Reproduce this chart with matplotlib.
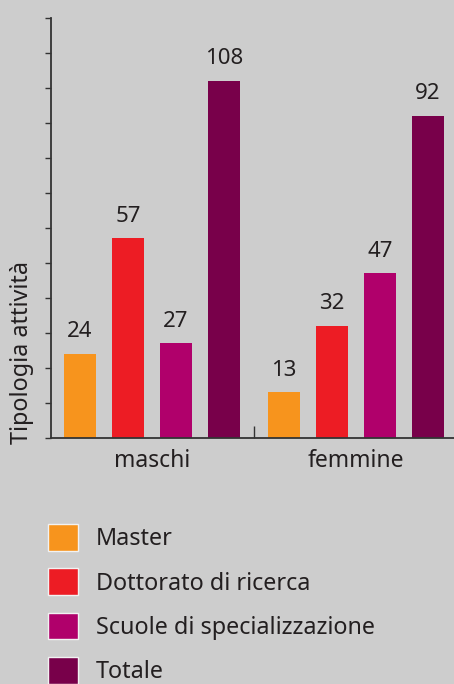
import matplotlib.pyplot as plt
from matplotlib.patches import Patch

# data
groups = ["maschi", "femmine"]
series = ["Master", "Dottorato di ricerca", "Scuole di specializzazione", "Totale"]
maschi = [24, 57, 27, 102]
femmine = [13, 32, 47, 92]
maschi_lbl = ["24", "57", "27", "108"]
femmine_lbl = ["13", "32", "47", "92"]
colors = ["#f7941d", "#ed1c24", "#b0006b", "#78004a"]

bg = "#cdcdcd"
txt = "#231f20"
plt.rcParams["font.family"] = ["Noto Sans", "DejaVu Sans"]

fig = plt.figure(figsize=(4.54, 6.84), dpi=100, facecolor=bg)
ax = fig.add_axes([51/454, 246/684, 403/454, 420.3/684])
ax.set_facecolor(bg)

gap = 4.25
width = 0.667
for g, (vals, lbls) in enumerate([(maschi, maschi_lbl), (femmine, femmine_lbl)]):
    for i in range(4):
        x = g*gap + i
        ax.bar(x, vals[i], width=width, color=colors[i])
        ax.text(x, vals[i] + 3.3, lbls[i], ha="center", va="bottom",
                fontsize=16, color=txt)

ax.set_xlim(-0.604, 3 + gap + 0.54)
ax.set_ylim(0, 120)
ax.set_yticks(range(0, 121, 10))
ax.set_yticklabels([])
ax.tick_params(axis="y", direction="out", length=4, width=1, color="#333333")
ax.set_xticks([(3 + gap)/2])
ax.set_xticklabels([])
ax.tick_params(axis="x", direction="in", length=9, width=1, color="#333333")
for s in ["top", "right"]:
    ax.spines[s].set_visible(False)
for s in ["left", "bottom"]:
    ax.spines[s].set_color("#333333")
    ax.spines[s].set_linewidth(1.3)

for g, name in enumerate(groups):
    ax.text(g*gap + 1.5, -3.0, name, ha="center", va="top", fontsize=16.5,
            color=txt)

fig.text(22/454, 1 - 352/684, "Tipologia attività", rotation=90,
         ha="center", va="center", fontsize=16.8, color=txt)

handles = [Patch(facecolor=c, edgecolor="#f2f2f2", linewidth=1) for c in colors]
fig.legend(handles, series, loc="upper left", bbox_to_anchor=(48/454, 1 - 524/684),
           frameon=False, fontsize=16.8, handlelength=1.29, handleheight=1.4,
           handletextpad=0.77, labelspacing=0.73, borderpad=0, borderaxespad=0,
           labelcolor=txt)

fig.savefig("out.png", dpi=100, facecolor=bg)
